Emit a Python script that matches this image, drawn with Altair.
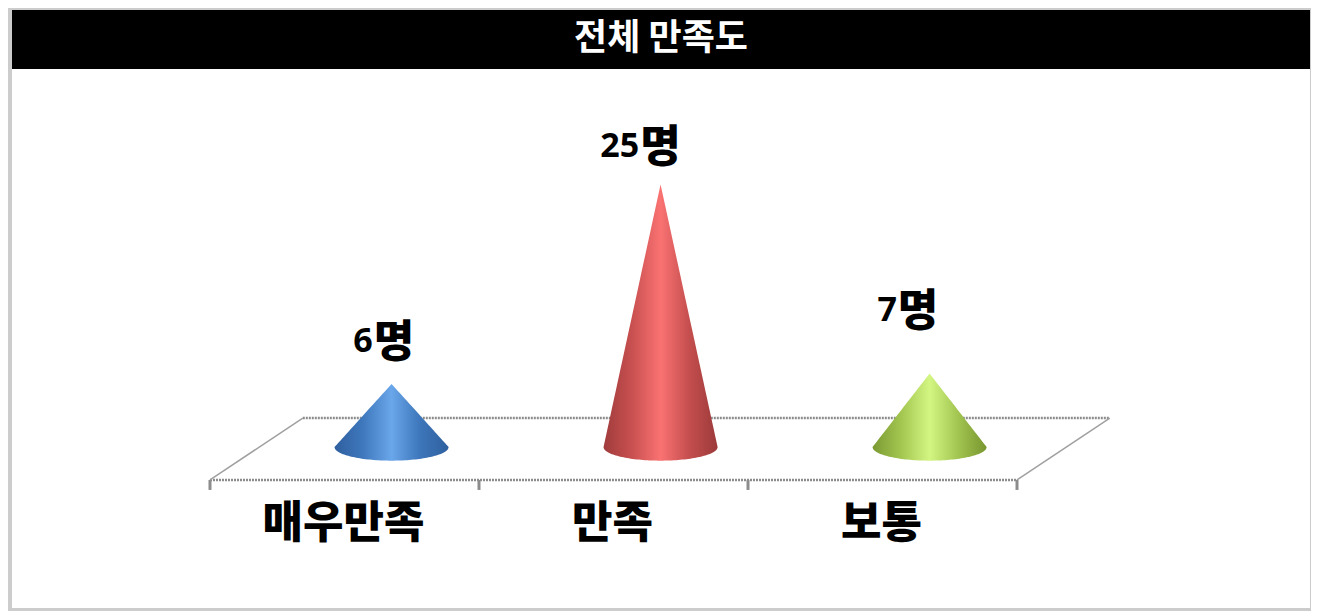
import numpy as np
import pandas as pd
import altair as alt

FONT = "Noto Sans CJK KR"
title = "전체 만족도"
categories = ["매우만족", "만족", "보통"]
values = [6, 25, 7]
label_pos = [0.609, 1.599, 2.557]   # where the digit and the 명 meet
label_y = [10.02, 28.6, 12.92]
gradients = [
    ["#2f5f9f", "#3f78bd", "#6aa6ea", "#3d76ba", "#2f609f"],
    ["#a03c3c", "#c95050", "#fa7272", "#c54e4e", "#9c3a3a"],
    ["#7b9a33", "#a3c650", "#d3f683", "#a2c450", "#78962f"],
]
tick_pos = [0, 1, 2, 3]

cone_shift = 0.175
half_w = 0.212
base_h = 1.3

W, H = 1303, 603
X = alt.Scale(domain=[-0.7509, 4.0929], nice=False, zero=False)
Y = alt.Scale(domain=[-15.62, 41.81], nice=False, zero=False)
ex = alt.X("x:Q", scale=X, axis=None)
ey = alt.Y("y:Q", scale=Y, axis=None)


def frame_rect(color, x0, x1, y0, y1):
    return alt.Chart(pd.DataFrame({"a": [0]})).mark_rect(color=color).encode(
        x=alt.value(x0), x2=alt.value(x1), y=alt.value(y0), y2=alt.value(y1))


inner = frame_rect("white", 4, 1302, 2, 600)
band = frame_rect("black", 4, 1302, 2, 61)

head = alt.Chart(pd.DataFrame({"t": [title]})).mark_text(
    font=FONT, fontSize=36, fontWeight="bold", color="white", align="center", baseline="middle"
).encode(text="t:N", x=alt.value(653), y=alt.value(31))

front, back, dx = -3.14, 2.76, 0.345
floor_df = pd.DataFrame([
    {"x": 0, "y": front, "s": "f"}, {"x": 3, "y": front, "s": "f"},
    {"x": dx, "y": back, "s": "b"}, {"x": 3 + dx, "y": back, "s": "b"},
])
floor_lines = alt.Chart(floor_df).mark_line(color="#8c8c8c", strokeWidth=2.5, strokeDash=[2, 1]).encode(
    x=ex, y=ey, detail="s:N")
side_df = pd.DataFrame([
    {"x": 0, "y": front, "s": "l"}, {"x": dx, "y": back, "s": "l"},
    {"x": 3, "y": front, "s": "r"}, {"x": 3 + dx, "y": back, "s": "r"},
])
side_lines = alt.Chart(side_df).mark_line(color="#a0a0a0", strokeWidth=1.5).encode(
    x=ex, y=ey, detail="s:N")
ticks = alt.Chart(pd.DataFrame({"x": tick_pos, "y": [front] * 4, "y2": [front - 0.95] * 4})).mark_rule(
    color="#8c8c8c", strokeWidth=3).encode(x=ex, y=ey, y2="y2:Q")

cones = []
for i, (v, g) in enumerate(zip(values, gradients)):
    t = np.sin(np.linspace(-np.pi / 2, np.pi / 2, 81))
    df = pd.DataFrame({
        "x": i + 0.5 + cone_shift + t * half_w,
        "y": v * (1 - np.abs(t)),
        "y2": -base_h * np.sqrt(np.maximum(1 - t ** 2, 0)),
    })
    stops = [alt.GradientStop(offset=o, color=c) for o, c in zip([0, 0.25, 0.5, 0.75, 1], g)]
    cones.append(alt.Chart(df).mark_area(
        color=alt.Gradient(gradient="linear", x1=0, x2=1, y1=0, y2=0, stops=stops),
    ).encode(x=ex, y=ey, y2=alt.Y2("y2:Q")))

cat_df = pd.DataFrame({"c": categories, "x": [p + 0.496 for p in range(3)], "y": [-7.45] * 3})
cat_text = alt.Chart(cat_df).mark_text(
    font=FONT, fontSize=44, fontWeight=900, color="black", align="center", baseline="middle"
).encode(x=ex, y=ey, text="c:N")

lab_df = pd.DataFrame({"x": label_pos, "y": label_y, "d": [str(v) for v in values], "u": ["명"] * 3})
lab_digits = alt.Chart(lab_df).mark_text(
    font="Open Sans", fontSize=34, fontWeight="bold", color="black", align="right", baseline="middle", dx=-1
).encode(x=ex, y=ey, text="d:N")
lab_unit = alt.Chart(lab_df).mark_text(
    font=FONT, fontSize=44, fontWeight=900, color="black", align="left", baseline="middle", dy=2
).encode(x=ex, y=ey, text="u:N")

chart = alt.layer(inner, band, head, floor_lines, side_lines, ticks, *cones, cat_text, lab_digits, lab_unit).properties(
    width=W, height=H, padding=0, background="#cccccc", autosize=alt.AutoSizeParams(type="none")
).configure_view(stroke=None)

chart.save("out.html", embed_options={"renderer": "svg", "actions": False})
